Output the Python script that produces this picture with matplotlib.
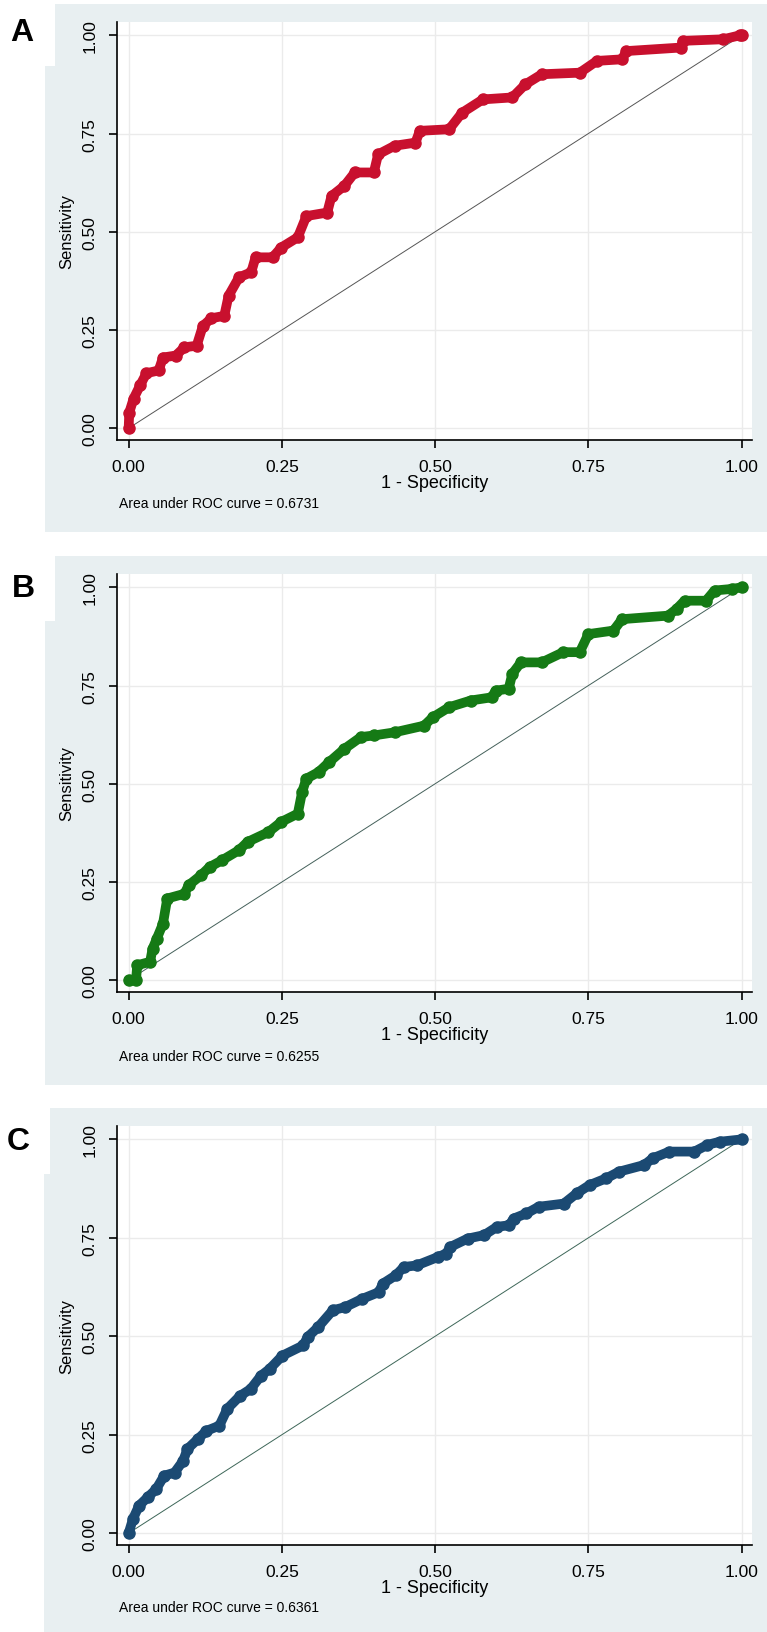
import numpy as np
import matplotlib
matplotlib.use("Agg")
import matplotlib.pyplot as plt
from matplotlib.patches import Rectangle

plt.rcParams['font.family'] = ['Liberation Sans', 'DejaVu Sans']

# ROC curve A
fpr_a = [0, 0.001, 0.008, 0.019, 0.029, 0.049, 0.056, 0.077, 0.091, 0.111, 0.121, 0.135,
         0.156, 0.163, 0.18, 0.2, 0.207, 0.235, 0.249, 0.276, 0.29, 0.324, 0.331, 0.352,
         0.369, 0.4, 0.407, 0.434, 0.468, 0.475, 0.523, 0.544, 0.578, 0.626, 0.647, 0.674,
         0.736, 0.764, 0.805, 0.812, 0.901, 0.904, 0.97, 0.997, 1.0]
tpr_a = [0, 0.04, 0.075, 0.11, 0.14, 0.147, 0.18, 0.185, 0.206, 0.21, 0.26, 0.28,
         0.286, 0.337, 0.384, 0.397, 0.435, 0.435, 0.46, 0.486, 0.54, 0.549, 0.591, 0.617,
         0.651, 0.651, 0.697, 0.719, 0.727, 0.757, 0.761, 0.803, 0.837, 0.842, 0.875, 0.901,
         0.905, 0.935, 0.939, 0.96, 0.969, 0.986, 0.99, 1.0, 1.0]

# ROC curve B
fpr_b = [0, 0.012, 0.014, 0.035, 0.039, 0.046, 0.056, 0.063, 0.091, 0.098, 0.118, 0.132,
         0.152, 0.18, 0.194, 0.228, 0.249, 0.276, 0.283, 0.29, 0.31, 0.327, 0.352, 0.379,
         0.4, 0.434, 0.482, 0.496, 0.523, 0.558, 0.592, 0.599, 0.62, 0.626, 0.64, 0.674,
         0.709, 0.736, 0.75, 0.791, 0.805, 0.88, 0.894, 0.907, 0.942, 0.956, 0.984, 1.0]
tpr_b = [0, 0, 0.038, 0.047, 0.08, 0.106, 0.144, 0.208, 0.22, 0.242, 0.267, 0.288,
         0.305, 0.331, 0.352, 0.377, 0.403, 0.424, 0.479, 0.513, 0.53, 0.555, 0.589, 0.619,
         0.623, 0.631, 0.648, 0.669, 0.695, 0.712, 0.72, 0.737, 0.742, 0.78, 0.809, 0.809,
         0.835, 0.835, 0.881, 0.89, 0.919, 0.928, 0.945, 0.966, 0.966, 0.992, 0.996, 1.0]

# ROC curve C
fpr_c = [0, 0.007, 0.017, 0.031, 0.045, 0.058, 0.075, 0.089, 0.096, 0.113, 0.127, 0.148,
         0.161, 0.182, 0.199, 0.216, 0.23, 0.251, 0.285, 0.292, 0.309, 0.333, 0.353, 0.381,
         0.408, 0.415, 0.436, 0.449, 0.47, 0.504, 0.518, 0.525, 0.553, 0.58, 0.601, 0.621,
         0.628, 0.649, 0.669, 0.71, 0.731, 0.752, 0.779, 0.8, 0.841, 0.855, 0.882, 0.923,
         0.944, 0.964, 1.0]
tpr_c = [0, 0.036, 0.07, 0.091, 0.112, 0.146, 0.154, 0.184, 0.214, 0.239, 0.26, 0.273,
         0.316, 0.349, 0.366, 0.4, 0.417, 0.451, 0.477, 0.498, 0.523, 0.566, 0.574, 0.595,
         0.612, 0.634, 0.655, 0.676, 0.68, 0.701, 0.71, 0.727, 0.748, 0.757, 0.778, 0.782,
         0.799, 0.812, 0.829, 0.837, 0.863, 0.884, 0.901, 0.918, 0.935, 0.952, 0.969, 0.969,
         0.986, 0.994, 1.0]

labels = ['A', 'B', 'C']
aucs = ['0.6731', '0.6255', '0.6361']
colors = ['#c8102e', '#157a15', '#1b4a73']
diag_colors = ['#555555', '#44605a', '#3d6658']
ticks = [0, 0.25, 0.5, 0.75, 1.0]
tick_labels = ['0.00', '0.25', '0.50', '0.75', '1.00']

W, H = 767, 1633
fig = plt.figure(figsize=(W / 100, H / 100), dpi=100)
fig.patch.set_facecolor('white')

# panel boxes (pixels): background, white label notch, axes area
bg_boxes = [(45, 5, 767, 533), (45, 557, 767, 1086), (44, 1109, 767, 1633)]
notch_boxes = [(0, 0, 55, 67), (0, 540, 55, 622), (0, 1100, 50, 1175)]
ax_boxes = [(117, 23, 752, 441), (117, 575, 752, 993), (117, 1127, 752, 1546)]
label_pos = [(22, 33), (23, 589), (18, 1142)]
auc_y = [504, 1057, 1608]


def rect(x0, y0, x1, y1, color):
    fig.patches.append(Rectangle((x0 / W, 1 - y1 / H), (x1 - x0) / W, (y1 - y0) / H,
                                 transform=fig.transFigure, facecolor=color,
                                 edgecolor='none', zorder=-10))


datasets = [(fpr_a, tpr_a), (fpr_b, tpr_b), (fpr_c, tpr_c)]

for i in range(3):
    rect(*bg_boxes[i], '#e8eff1')
    rect(*notch_boxes[i], 'white')
    x0, y0, x1, y1 = ax_boxes[i]
    ax = fig.add_axes([x0 / W, 1 - y1 / H, (x1 - x0) / W, (y1 - y0) / H])
    ax.set_facecolor('white')
    fpr, tpr = datasets[i]
    ax.plot([0, 1], [0, 1], color=diag_colors[i], lw=0.7, zorder=2)
    ax.plot(fpr, tpr, '-o', color=colors[i], lw=7, ms=8,
            solid_joinstyle='round', solid_capstyle='round', zorder=3)
    ax.set_xlim(-0.019, 1.017)
    ax.set_ylim(-0.03, 1.034)
    ax.set_xticks(ticks)
    ax.set_xticklabels(tick_labels, fontsize=12.5)
    ax.set_yticks(ticks)
    ax.set_yticklabels(tick_labels, fontsize=12.5, rotation=90, va='center')
    ax.tick_params(direction='out', length=6, width=1.2, pad=8)
    ax.grid(True, color='#ebebeb', lw=1)
    ax.set_axisbelow(True)
    for s in ['top', 'right']:
        ax.spines[s].set_visible(False)
    for s in ['left', 'bottom']:
        ax.spines[s].set_linewidth(1.2)
    ax.set_xlabel('1 - Specificity', fontsize=13, labelpad=0)
    ax.set_ylabel('Sensitivity', fontsize=12, labelpad=6)
    fig.text(119 / W, 1 - auc_y[i] / H, 'Area under ROC curve = ' + aucs[i],
             fontsize=10, ha='left', va='center')
    lx, ly = label_pos[i]
    fig.text(lx / W, 1 - ly / H, labels[i], fontsize=23, fontweight='bold',
             ha='center', va='center')

fig.savefig('out.png', dpi=100)
